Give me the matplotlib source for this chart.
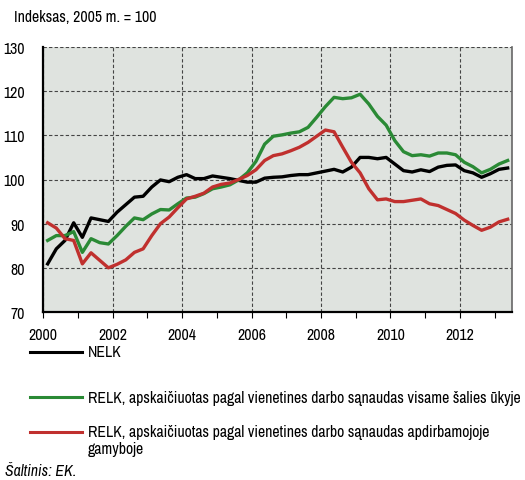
import numpy as np
import matplotlib.pyplot as plt
from matplotlib.lines import Line2D
from matplotlib.ticker import MultipleLocator
from matplotlib import font_manager

# ketvirtiniai duomenys, 2000 I ketv. - 2013 II ketv.
quarters = 2000.125 + 0.25 * np.arange(54)

nelk = [80.9, 84.3, 86.2, 90.2, 86.9, 91.3, 90.9, 90.5, 92.6, 94.3,
        96.0, 96.2, 98.3, 99.9, 99.5, 100.5, 101.1, 100.2, 100.2, 100.8,
        100.5, 100.2, 99.8, 99.4, 99.4, 100.3, 100.5, 100.6, 100.9, 101.1,
        101.1, 101.5, 101.9, 102.3, 101.7, 102.8, 105.0, 105.0, 104.7, 105.0,
        103.5, 102.0, 101.7, 102.2, 101.8, 102.8, 103.2, 103.3, 102.0, 101.5,
        100.5, 101.3, 102.3, 102.6]

relk_ulc = [86.2, 87.3, 87.3, 88.2, 83.5, 86.6, 85.7, 85.4, 87.3, 89.4,
            91.3, 90.9, 92.2, 93.2, 93.1, 94.5, 95.8, 96.0, 96.8, 97.9,
            98.3, 98.8, 99.9, 101.5, 104.1, 108.0, 109.8, 110.1, 110.5, 110.8,
            111.8, 114.1, 116.5, 118.6, 118.3, 118.5, 119.3, 117.1, 114.3, 112.3,
            108.8, 106.3, 105.4, 105.6, 105.3, 106.0, 106.0, 105.6, 103.9, 102.9,
            101.5, 102.3, 103.5, 104.3]

relk_manuf = [90.2, 89.0, 86.6, 86.2, 80.9, 83.4, 81.7, 80.0, 80.8, 81.8,
              83.5, 84.3, 87.3, 90.0, 91.5, 93.6, 95.6, 96.2, 96.9, 98.3,
              98.9, 99.2, 100.0, 100.9, 102.2, 104.3, 105.4, 105.8, 106.5, 107.3,
              108.4, 109.8, 111.2, 110.8, 107.3, 103.9, 101.5, 97.9, 95.4, 95.6,
              95.0, 95.0, 95.3, 95.6, 94.5, 94.1, 93.2, 92.3, 90.8, 89.6,
              88.5, 89.2, 90.4, 91.0]

labels = ["NELK",
          "RELK, apskaičiuotas pagal vienetines darbo sąnaudas visame šalies ūkyje",
          "RELK, apskaičiuotas pagal vienetines darbo sąnaudas apdirbamojoje\ngamyboje"]
colors = ["#000000", "#2a8a35", "#c0302e"]

# siauresnis šriftas, jei toks yra
names = {f.name for f in font_manager.fontManager.ttflist}
narrow = [n for n in sorted(names) if 'Narrow' in n or 'Condensed' in n]
plt.rcParams['font.family'] = narrow[:1] + ['Liberation Sans', 'DejaVu Sans']

W, H = 525, 481
fig = plt.figure(figsize=(W / 100, H / 100), dpi=100)

# šrifto dydis pagal legendos eilutės plotį (~434 px originale)
probe = fig.text(0, 0, labels[1], fontsize=10)
wpx = probe.get_window_extent(fig.canvas.get_renderer()).width
probe.remove()
fs = 10 * 434 / wpx

ax = fig.add_axes([43.3 / W, 1 - 313 / H, (512 - 43.3) / W, (313 - 48) / H])
ax.set_facecolor("#dfe3df")

for ys, c in zip([nelk, relk_ulc, relk_manuf], colors):
    ax.plot(quarters, ys, color=c, lw=2.4, solid_joinstyle='round', zorder=3)

ax.set_xlim(2000, 2013.5)
ax.set_ylim(70, 130)
ax.xaxis.set_major_locator(MultipleLocator(2))
ax.xaxis.set_minor_locator(MultipleLocator(1))
ax.yaxis.set_major_locator(MultipleLocator(10))
ax.grid(True, which='major', color="#444444", lw=0.8, ls=(0, (3, 2)))
ax.tick_params(axis='x', which='both', direction='out', length=4, width=0.8,
               labelsize=fs, pad=7, color="#000000")
ax.tick_params(axis='y', length=0, labelsize=fs, pad=13)

for s in ['left', 'bottom']:
    ax.spines[s].set_color("#000000")
    ax.spines[s].set_linewidth(1.6)
ax.spines['right'].set_color("#666666")
ax.spines['right'].set_linewidth(1.2)
ax.spines['top'].set_visible(False)

fig.text(14 / W, 1 - 17 / H, "Indeksas, 2005 m. = 100", fontsize=fs, va='center', ha='left')

# legenda po grafiku
leg_y = [353, 398, 433]
for y, c, lab in zip(leg_y, colors, labels):
    fig.add_artist(Line2D([30 / W, 82 / W], [1 - y / H, 1 - y / H], color=c, lw=2.2,
                          transform=fig.transFigure))
    if '\n' in lab:
        fig.text(88 / W, 1 - (y - 8) / H, lab, fontsize=fs, va='top', ha='left',
                 linespacing=1.2)
    else:
        fig.text(88 / W, 1 - y / H, lab, fontsize=fs, va='center', ha='left')

fig.text(5 / W, 1 - 472 / H, "Šaltinis: EK.", fontsize=fs, style='italic', va='center')

fig.savefig("out.png", dpi=100)
